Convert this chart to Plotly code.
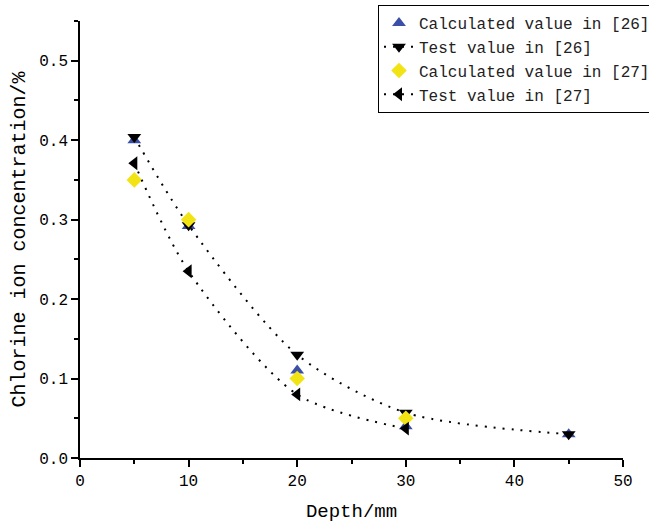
import plotly.graph_objects as go

depth26 = [5, 10, 20, 30, 45]
calc26 = [0.400, 0.292, 0.110, 0.040, 0.030]
test26 = [0.404, 0.293, 0.130, 0.057, 0.030]

depth27 = [5, 10, 20, 30]
calc27 = [0.350, 0.300, 0.100, 0.050]
test27 = [0.371, 0.235, 0.080, 0.037]

FONT = "Liberation Mono"
BLUE = "#3b4fa6"
YELLOW = "#f2e414"

fig = go.Figure()
fig.add_trace(go.Scatter(x=depth26, y=calc26, mode="markers", name="Calculated value in [26]",
                         marker=dict(symbol="triangle-up", size=12, color=BLUE)))
fig.add_trace(go.Scatter(x=depth26, y=test26, mode="lines+markers", name="Test value in [26]",
                         line=dict(color="black", width=2, dash="2px,7px", shape="spline", smoothing=0.8),
                         marker=dict(symbol="triangle-down", size=12, color="black")))
fig.add_trace(go.Scatter(x=depth27, y=calc27, mode="markers", name="Calculated value in [27]",
                         marker=dict(symbol="diamond", size=12, color=YELLOW)))
fig.add_trace(go.Scatter(x=depth27, y=test27, mode="lines+markers", name="Test value in [27]",
                         line=dict(color="black", width=2, dash="2px,7px", shape="spline", smoothing=0.8),
                         marker=dict(symbol="triangle-left", size=12, color="black")))

fig.update_layout(
    width=649, height=525,
    margin=dict(l=80, r=26, t=21, b=67, autoexpand=False),
    paper_bgcolor="white", plot_bgcolor="white",
    font=dict(family=FONT, color="black", size=16),
    legend=dict(xref="container", yref="container", x=378/649, y=1 - 5/525,
                xanchor="left", yanchor="top",
                bordercolor="black", borderwidth=1, bgcolor="white",
                font=dict(family=FONT, size=16, color="#222"), itemwidth=30, tracegroupgap=0),
    xaxis=dict(range=[0, 50], tickvals=[0, 10, 20, 30, 40, 50], showgrid=False, zeroline=False,
               showline=True, linecolor="black", linewidth=1.5, ticks="outside", ticklen=7,
               tickcolor="black", tickwidth=1.5,
               minor=dict(dtick=5, ticks="outside", ticklen=4, tickcolor="black", tickwidth=1.5),
               title=dict(text="Depth/mm", font=dict(size=19), standoff=14)),
    yaxis=dict(range=[0, 0.55], tickvals=[0, 0.1, 0.2, 0.3, 0.4, 0.5], tickformat=".1f",
               showgrid=False, zeroline=False,
               showline=True, linecolor="black", linewidth=1.5, ticks="outside", ticklen=7,
               tickcolor="black", tickwidth=1.5,
               minor=dict(dtick=0.05, ticks="outside", ticklen=4, tickcolor="black", tickwidth=1.5),
               title=dict(text="Chlorine ion concentration/%", font=dict(size=20), standoff=8)),
)

fig.write_html("out.html")
